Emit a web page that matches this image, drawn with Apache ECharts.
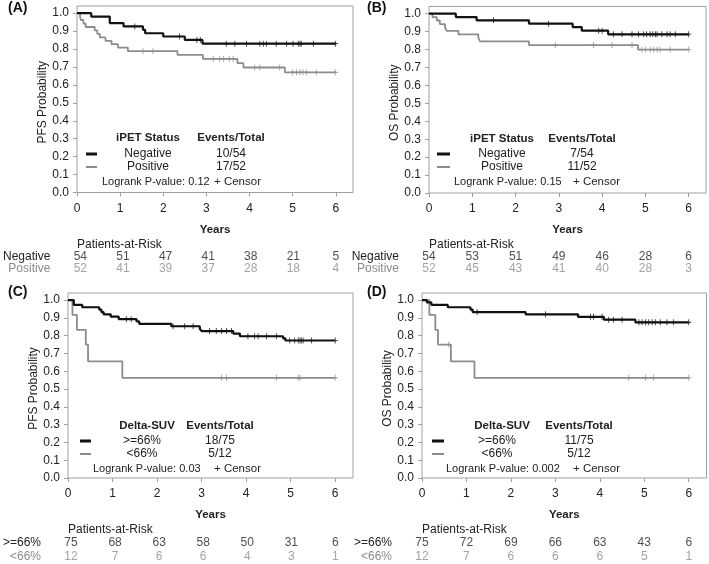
<!DOCTYPE html>
<html><head><meta charset="utf-8">
<script src="https://cdn.jsdelivr.net/npm/echarts@6/dist/echarts.min.js"></script>
<style>html,body{margin:0;padding:0;background:#fff}#c{width:709px;height:564px}</style>
</head><body><div id="c"></div>
<script>
// ---------- DATA ----------
const years = [0, 1, 2, 3, 4, 5, 6];
const yTicks = [0, 0.1, 0.2, 0.3, 0.4, 0.5, 0.6, 0.7, 0.8, 0.9, 1.0];

// (A) PFS by iPET status
const pfsIpetNegT = [0, 0.33, 0.76, 1.08, 1.53, 1.58, 2.0, 2.5, 2.91, 6.0];
const pfsIpetNegS = [1.0, 0.981, 0.944, 0.926, 0.907, 0.888, 0.870, 0.851, 0.830, 0.830];
const pfsIpetNegC = [1.34, 2.38, 2.78, 2.86, 3.46, 3.66, 3.93, 4.24, 4.32, 4.39, 4.62, 4.86, 5.01, 5.13, 5.17, 5.2, 5.48, 5.99];
const pfsIpetPosT = [0, 0.07, 0.09, 0.15, 0.2, 0.41, 0.47, 0.53, 0.66, 0.8, 0.95, 1.18, 2.33, 2.92, 3.72, 3.86, 4.82, 6.0];
const pfsIpetPosS = [1.0, 0.981, 0.962, 0.942, 0.923, 0.904, 0.885, 0.865, 0.846, 0.827, 0.808, 0.788, 0.767, 0.745, 0.721, 0.697, 0.670, 0.670];
const pfsIpetPosC = [1.53, 1.76, 3.16, 3.31, 3.4, 3.53, 3.62, 4.12, 4.24, 4.7, 5.0, 5.09, 5.17, 5.24, 5.32, 5.55, 5.99];
const riskPfsIpetNeg = [54, 51, 47, 41, 38, 21, 5];
const riskPfsIpetPos = [52, 41, 39, 37, 28, 18, 4];

// (B) OS by iPET status
const osIpetNegT = [0, 0.62, 1.1, 2.31, 3.32, 3.53, 4.14, 6.0];
const osIpetNegS = [1.0, 0.981, 0.963, 0.944, 0.925, 0.905, 0.885, 0.885];
const osIpetNegC = [1.49, 2.76, 3.92, 4.0, 4.26, 4.46, 4.69, 4.84, 4.96, 5.03, 5.11, 5.17, 5.23, 5.27, 5.38, 5.5, 5.57, 5.69, 6.0];
const osIpetPosT = [0, 0.08, 0.18, 0.25, 0.37, 0.41, 0.68, 1.14, 1.18, 2.31, 4.83, 6.0];
const osIpetPosS = [1.0, 0.981, 0.962, 0.942, 0.923, 0.904, 0.885, 0.865, 0.846, 0.825, 0.800, 0.800];
const osIpetPosC = [2.92, 3.8, 4.23, 4.69, 4.92, 5.0, 5.11, 5.19, 5.27, 5.34, 5.57, 6.0];
const riskOsIpetNeg = [54, 53, 51, 49, 46, 28, 6];
const riskOsIpetPos = [52, 45, 43, 41, 40, 28, 3];

// (C) PFS by Delta-SUV
const pfsSuvHiT = [0, 0.13, 0.32, 0.70, 0.75, 0.80, 0.96, 1.14, 1.54, 1.60, 2.32, 2.96, 3.0, 3.71, 3.86, 4.83, 4.88, 6.0];
const pfsSuvHiS = [1.0, 0.973, 0.960, 0.947, 0.933, 0.920, 0.907, 0.893, 0.880, 0.866, 0.853, 0.839, 0.826, 0.812, 0.797, 0.785, 0.773, 0.773];
const pfsSuvHiC = [1.31, 1.42, 2.36, 2.62, 2.81, 3.18, 3.33, 3.45, 3.56, 3.67, 4.04, 4.19, 4.27, 4.46, 4.68, 4.98, 5.09, 5.17, 5.21, 5.24, 5.28, 5.47, 6.0];
const pfsSuvLoT = [0, 0.10, 0.20, 0.40, 0.45, 1.22, 6.0];
const pfsSuvLoS = [1.0, 0.917, 0.833, 0.750, 0.656, 0.563, 0.563];
const pfsSuvLoC = [3.45, 3.56, 4.68, 5.17, 5.21, 6.0];
const riskPfsSuvHi = [75, 68, 63, 58, 50, 31, 6];
const riskPfsSuvLo = [12, 7, 6, 6, 4, 3, 1];

// (D) OS by Delta-SUV
const osSuvHiT = [0, 0.11, 0.21, 0.58, 1.09, 1.14, 2.33, 3.51, 4.09, 4.80, 6.0];
const osSuvHiS = [1.0, 0.987, 0.973, 0.960, 0.947, 0.933, 0.920, 0.906, 0.890, 0.875, 0.875];
const osSuvHiC = [1.24, 2.78, 3.79, 3.86, 4.05, 4.2, 4.31, 4.5, 4.88, 4.95, 5.03, 5.1, 5.18, 5.25, 5.36, 5.51, 5.66, 6.0];
const osSuvLoT = [0, 0.165, 0.30, 0.36, 0.65, 1.18, 6.0];
const osSuvLoS = [1.0, 0.917, 0.833, 0.750, 0.656, 0.563, 0.563];
const osSuvLoC = [0.6, 4.65, 5.03, 5.21, 6.0];
const riskOsSuvHi = [75, 72, 69, 66, 63, 43, 6];
const riskOsSuvLo = [12, 7, 6, 6, 6, 5, 1];

const groupsIpet = ['Negative', 'Positive'];
const groupsSuv = ['>=66%', '<66%'];
const eventsA = ['10/54', '17/52'];
const eventsB = ['7/54', '11/52'];
const eventsC = ['18/75', '5/12'];
const eventsD = ['11/75', '5/12'];
const pA = 'Logrank P-value: 0.12';
const pB = 'Logrank P-value: 0.15';
const pC = 'Logrank P-value: 0.03';
const pD = 'Logrank P-value: 0.002';

// ---------- LAYOUT / STYLE ----------
const FONT = '"Liberation Sans", Arial, sans-serif';
const TXT = '#222';
const BLACK = '#111';
const GRAY = '#8c8c8c';
const FRAME = '#a0a0a0';
const XMAX = 6.4, YMAX = 1.04;

const panels = [
  { label: '(A)', lx: 8, ly: 9, grid: { left: 77, top: 6, width: 276, height: 186.5 }, riskTop: 251, riskH: 24, parTop: 246,
    ytitle: 'PFS Probability', head: 'iPET Status', groups: groupsIpet, events: eventsA, p: pA,
    curves: [[pfsIpetNegT, pfsIpetNegS, pfsIpetNegC], [pfsIpetPosT, pfsIpetPosS, pfsIpetPosC]],
    risk: [riskPfsIpetNeg, riskPfsIpetPos],
    lg: { y: [138, 154, 167, 182], nameX: 148, evX: 231, lineX: [86, 97], pX: 102, cX: 214 } },
  { label: '(B)', lx: 367, ly: 9, grid: { left: 429, top: 6.5, width: 277, height: 186.5 }, riskTop: 251, riskH: 24, parTop: 246,
    ytitle: 'OS Probability', head: 'iPET Status', groups: groupsIpet, events: eventsB, p: pB,
    curves: [[osIpetNegT, osIpetNegS, osIpetNegC], [osIpetPosT, osIpetPosS, osIpetPosC]],
    risk: [riskOsIpetNeg, riskOsIpetPos],
    lg: { y: [139, 154, 167, 182], nameX: 502, evX: 582, lineX: [437, 450], pX: 454, cX: 573 } },
  { label: '(C)', lx: 8, ly: 293, grid: { left: 68, top: 293, width: 285, height: 185 }, riskTop: 536, riskH: 28, parTop: 531,
    ytitle: 'PFS Probability', head: 'Delta-SUV', groups: groupsSuv, events: eventsC, p: pC,
    curves: [[pfsSuvHiT, pfsSuvHiS, pfsSuvHiC], [pfsSuvLoT, pfsSuvLoS, pfsSuvLoC]],
    risk: [riskPfsSuvHi, riskPfsSuvLo],
    lg: { y: [426, 441, 454, 469], nameX: 142, evX: 220, lineX: [80, 91], pX: 93, cX: 214, headX: 147 } },
  { label: '(D)', lx: 367, ly: 293, grid: { left: 422, top: 293, width: 284.5, height: 185 }, riskTop: 536, riskH: 28, parTop: 531,
    ytitle: 'OS Probability', head: 'Delta-SUV', groups: groupsSuv, events: eventsD, p: pD,
    curves: [[osSuvHiT, osSuvHiS, osSuvHiC], [osSuvLoT, osSuvLoS, osSuvLoC]],
    risk: [riskOsSuvHi, riskOsSuvLo],
    lg: { y: [426, 441, 454, 469], nameX: 497, evX: 579, lineX: [432, 444], pX: 446, cX: 573, headX: 502 } }
];

function survAt(T, S, t) {
  let s = S[0];
  for (let i = 0; i < T.length; i++) if (T[i] <= t) s = S[i];
  return s;
}

const grid = [], xAxis = [], yAxis = [], series = [], graphic = [];
const colors = [BLACK, GRAY];
const widths = [2.2, 1.8];
const CENSOR = 'path://M5,0L5,10M0,5L10,5';

panels.forEach((p, k) => {
  const gi = grid.length;
  grid.push(Object.assign({ show: true, borderColor: FRAME, borderWidth: 1, backgroundColor: 'transparent' }, p.grid));
  xAxis.push({
    gridIndex: gi, type: 'value', min: 0, max: XMAX,
    axisLine: { show: false },
    axisTick: { show: true, length: 4, inside: false, lineStyle: { color: FRAME }, customValues: years },
    axisLabel: { customValues: years, color: TXT, fontFamily: FONT, fontSize: 12, margin: 10 },
    splitLine: { show: false },
    name: 'Years', nameLocation: 'middle', nameGap: 31,
    nameTextStyle: { fontFamily: FONT, fontWeight: 'bold', fontSize: 11.5, color: TXT }
  });
  yAxis.push({
    gridIndex: gi, type: 'value', min: 0, max: YMAX,
    axisLine: { show: false },
    axisTick: { show: true, length: 4, lineStyle: { color: FRAME }, customValues: yTicks },
    axisLabel: { customValues: yTicks, color: TXT, fontFamily: FONT, fontSize: 12, margin: 8,
      formatter: v => v.toFixed(1) },
    splitLine: { show: false },
    name: p.ytitle, nameLocation: 'middle', nameGap: 28,
    nameTextStyle: { fontFamily: FONT, fontSize: 12, color: TXT, padding: [0, 0, 0, -6] }
  });
  p.curves.forEach((c, j) => {
    const [T, S, C] = c;
    series.push({
      type: 'line', xAxisIndex: gi, yAxisIndex: gi, step: 'end', showSymbol: false, silent: true,
      data: T.map((t, i) => [t, S[i]]),
      lineStyle: { color: colors[j], width: widths[j] }, z: 3 - j
    });
    series.push({
      type: 'scatter', xAxisIndex: gi, yAxisIndex: gi, symbol: CENSOR, symbolSize: [5, 6], silent: true,
      data: C.map(t => [t, survAt(T, S, t)]),
      itemStyle: { color: 'none', borderColor: colors[j], borderWidth: 1 }, z: 3 - j
    });
  });
  // risk table grid
  const ri = grid.length;
  grid.push({ left: p.grid.left, width: p.grid.width, top: p.riskTop, height: p.riskH, show: false });
  xAxis.push({ gridIndex: ri, type: 'value', min: 0, max: XMAX, show: false });
  yAxis.push({
    gridIndex: ri, type: 'category', data: p.groups, inverse: true,
    axisLine: { show: false }, axisTick: { show: false }, splitLine: { show: false },
    axisLabel: { interval: 0, hideOverlap: false, margin: 30, fontFamily: FONT, fontSize: 12,
      color: (v, i) => (i === 0 ? TXT : GRAY) }
  });
  p.risk.forEach((vals, r) => {
    series.push({
      type: 'scatter', xAxisIndex: ri, yAxisIndex: ri, symbolSize: 1, silent: true,
      itemStyle: { color: 'transparent' },
      data: vals.map((v, i) => [years[i], r, v]),
      label: { show: true, position: 'inside', formatter: q => String(q.value[2]),
        fontFamily: FONT, fontSize: 12, color: r === 0 ? TXT : GRAY }
    });
  });
  // panel label & at-risk title
  graphic.push({ type: 'text', left: p.lx, top: p.ly - 8, style: { text: p.label, font: 'bold 14px ' + FONT, fill: '#111' } });
  graphic.push({ type: 'text', left: p.grid.left, top: p.parTop - 7, style: { text: 'Patients-at-Risk', font: '12px ' + FONT, fill: TXT } });
  // in-plot legend
  const L = p.lg;
  const hx = L.headX || L.nameX;
  graphic.push({ type: 'text', x: hx, y: L.y[0], style: { text: p.head, font: 'bold 11.5px ' + FONT, fill: TXT, align: 'center', verticalAlign: 'middle' } });
  graphic.push({ type: 'text', x: L.evX, y: L.y[0], style: { text: 'Events/Total', font: 'bold 11.5px ' + FONT, fill: TXT, align: 'center', verticalAlign: 'middle' } });
  p.groups.forEach((g, j) => {
    const yy = L.y[1 + j];
    graphic.push({ type: 'line', shape: { x1: L.lineX[0], y1: yy, x2: L.lineX[1], y2: yy }, style: { stroke: colors[j], lineWidth: j === 0 ? 3 : 2 } });
    graphic.push({ type: 'text', x: L.nameX, y: yy, style: { text: g, font: '12px ' + FONT, fill: TXT, align: 'center', verticalAlign: 'middle' } });
    graphic.push({ type: 'text', x: L.evX, y: yy, style: { text: p.events[j], font: '12px ' + FONT, fill: TXT, align: 'center', verticalAlign: 'middle' } });
  });
  graphic.push({ type: 'text', x: L.pX, y: L.y[3], style: { text: p.p, font: '11px ' + FONT, fill: TXT, verticalAlign: 'middle' } });
  graphic.push({ type: 'text', x: L.cX, y: L.y[3], style: { text: '+ Censor', font: '11.5px ' + FONT, fill: TXT, verticalAlign: 'middle' } });
});

const chart = echarts.init(document.getElementById('c'), null, { renderer: 'canvas' });
chart.setOption({ animation: false, backgroundColor: '#fff', grid, xAxis, yAxis, series, graphic });
</script></body></html>
